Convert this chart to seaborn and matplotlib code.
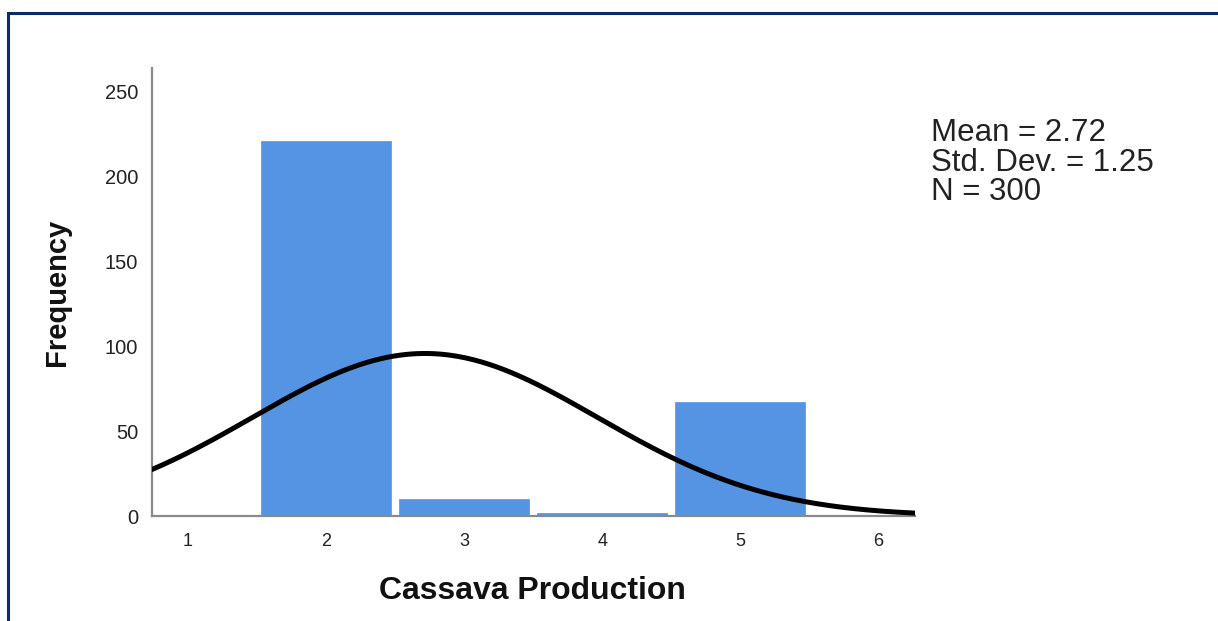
import numpy as np
import pandas as pd
import matplotlib
matplotlib.use("Agg")
import matplotlib.pyplot as plt
from matplotlib.patches import Rectangle
import seaborn as sns

# Cassava production scores and how many respondents gave each one
production_levels = [2, 3, 4, 5]
frequencies = [221, 10, 2, 67]
x_tick_labels = ["1", "2", "3", "4", "5", "6"]
y_tick_values = [0, 50, 100, 150, 200, 250]

df = pd.DataFrame({"production": production_levels, "count": frequencies})

n = int(np.sum(frequencies))
mean = np.average(production_levels, weights=frequencies)
sd = np.sqrt(np.sum(np.array(frequencies) * (np.array(production_levels) - mean) ** 2) / (n - 1))

sns.set_theme(style="white")
plt.rcParams["font.family"] = ["Liberation Sans", "DejaVu Sans"]

fig = plt.figure(figsize=(12.18, 6.21), dpi=100)
fig.patch.set_facecolor("white")

# outer frame around the output panel
fig.patches.append(Rectangle((7.5 / 1218, -0.2), 1.3, 1.2 - 13 / 621,
                             transform=fig.transFigure, fill=False,
                             edgecolor="#0c2a6b", linewidth=2.2, zorder=0))

ax = fig.add_axes([152 / 1218, 105 / 621, (915 - 152) / 1218, (516 - 68) / 621])

sns.histplot(data=df, x="production", weights="count", discrete=True,
             shrink=0.94, color="#5594e3", alpha=1, edgecolor="#5594e3",
             linewidth=0.5, ax=ax, zorder=2)

# fitted normal curve scaled to counts (bin width 1)
xlim = (0.74, 6.265)
grid = np.linspace(xlim[0], xlim[1], 400)
curve = n * np.exp(-0.5 * ((grid - mean) / sd) ** 2) / (sd * np.sqrt(2 * np.pi))
sns.lineplot(x=grid, y=curve, color="black", linewidth=3.6, ax=ax, zorder=3)

ax.set_xlim(*xlim)
ax.set_ylim(0, 264)
ax.set_xticks(range(1, 7))
ax.set_xticklabels(x_tick_labels)
ax.set_yticks(y_tick_values)
ax.tick_params(axis="both", length=0, colors="#222222")
ax.tick_params(axis="x", labelsize=13, pad=12)
ax.tick_params(axis="y", labelsize=14.5, pad=10)

for side in ("top", "right"):
    ax.spines[side].set_visible(False)
for side in ("left", "bottom"):
    ax.spines[side].set_color("#8a8a8a")
    ax.spines[side].set_linewidth(1.6)

ax.set_xlabel("")
ax.set_ylabel("")
fig.text(532 / 1218, 1 - 591 / 621, "Cassava Production", ha="center", va="center",
         fontsize=23, fontweight="bold", color="#111111")
fig.text(57 / 1218, 1 - 292 / 621, "Frequency", ha="center", va="center",
         rotation=90, fontsize=21, fontweight="bold", color="#111111")

stats = f"Mean = {mean:.2f}\nStd. Dev. = {sd:.2f}\nN = {n}"
fig.text(931 / 1218, 1 - 118 / 621, stats, ha="left", va="top",
         fontsize=22.5, color="#222222", linespacing=0.98)

fig.savefig("out.png", dpi=100)
